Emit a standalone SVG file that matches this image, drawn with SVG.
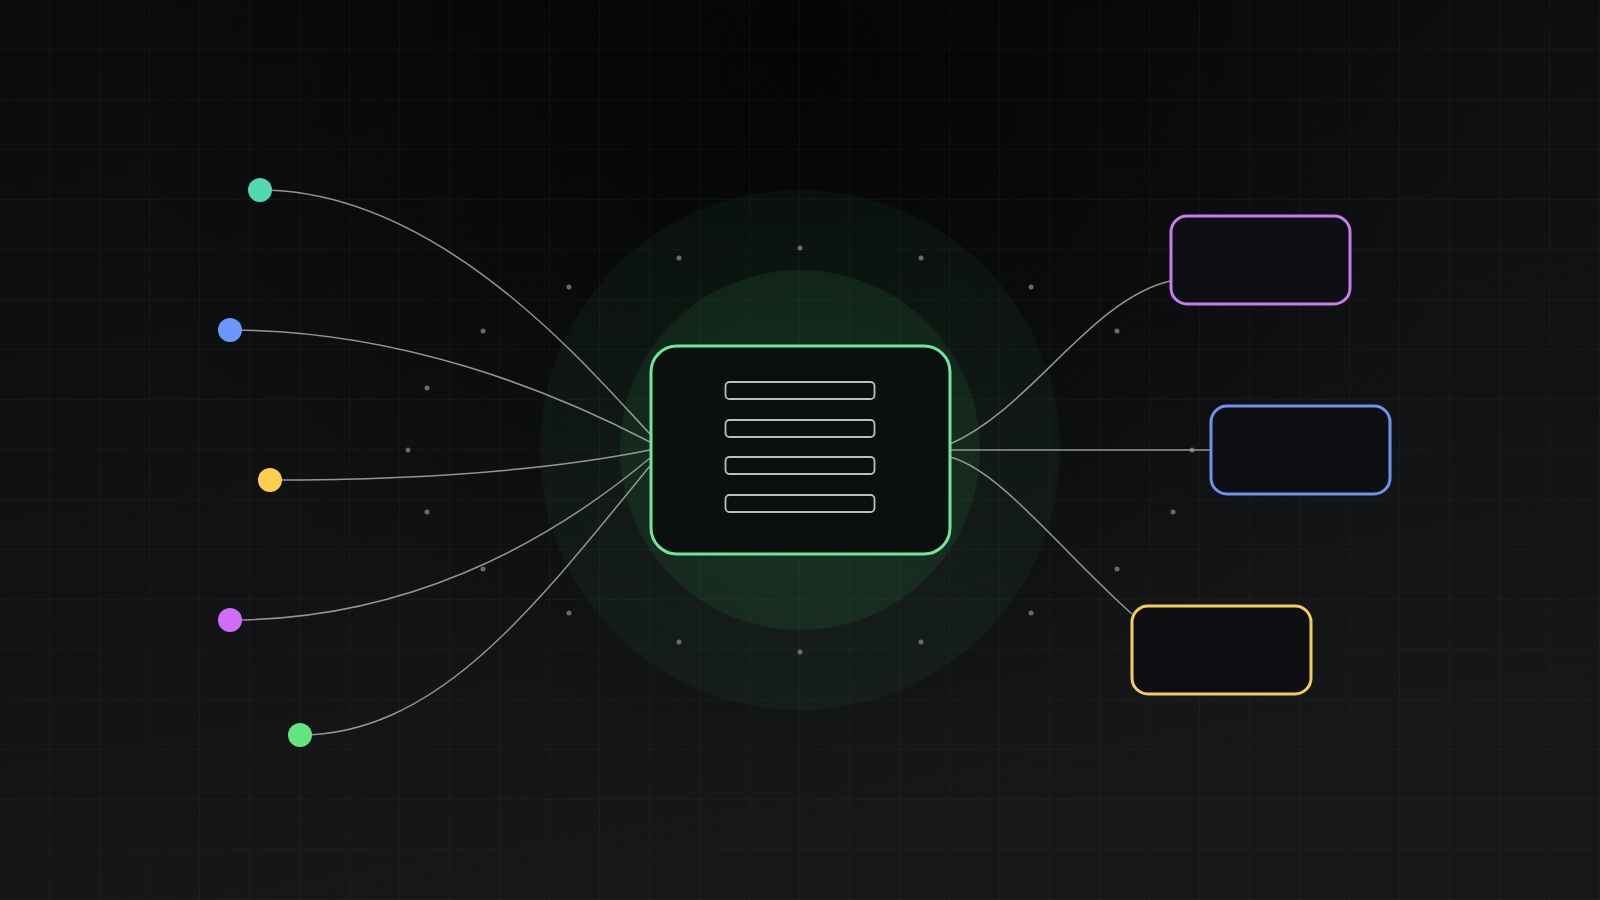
<svg xmlns="http://www.w3.org/2000/svg" width="1600" height="900" viewBox="0 0 1600 900">
  <defs>
    <linearGradient id="bg" x1="0" y1="0" x2="0.3" y2="1">
      <stop offset="0" stop-color="#0a0b0c"/>
      <stop offset="1" stop-color="#161719"/>
    </linearGradient>
    <radialGradient id="shade" cx="800" cy="60" r="700" gradientUnits="userSpaceOnUse">
      <stop offset="0" stop-color="#000" stop-opacity="0.65"/>
      <stop offset="1" stop-color="#000" stop-opacity="0"/>
    </radialGradient>
    <pattern id="grid" width="50" height="50" patternUnits="userSpaceOnUse">
      <path d="M50 0V50M0 50H50" fill="none" stroke="#ffffff" stroke-opacity="0.055" stroke-width="1"/>
    </pattern>
    <radialGradient id="glowOuter" cx="0.5" cy="0.5" r="0.5">
      <stop offset="0" stop-color="#4ade80" stop-opacity="0.07"/>
      <stop offset="1" stop-color="#4ade80" stop-opacity="0.045"/>
    </radialGradient>
    <radialGradient id="glowInner" cx="0.5" cy="0.5" r="0.5">
      <stop offset="0" stop-color="#4ade80" stop-opacity="0.12"/>
      <stop offset="1" stop-color="#4ade80" stop-opacity="0.08"/>
    </radialGradient>
  </defs>
  <style>
    .link { fill: none; stroke: #a3a3a3; stroke-width: 1.5; stroke-opacity: 0.9; }
    .ring-dot { fill: #6b6b6b; }
    .box { fill: #0e0f12; stroke-width: 3; }
    .bar { fill: none; stroke: #bdbdbd; stroke-width: 1.8; }
  </style>

  <rect width="1600" height="900" fill="url(#bg)"/>
  <rect width="1600" height="900" fill="url(#shade)"/>
  <rect width="1600" height="900" fill="url(#grid)"/>

  <g id="glow">
    <circle cx="800" cy="450" r="260" fill="url(#glowOuter)"/>
    <circle cx="800" cy="450" r="180" fill="url(#glowInner)"/>
  </g>

  <g id="ring-dots">
    <circle class="ring-dot" cx="1192" cy="450" r="2.5"/>
    <circle class="ring-dot" cx="1117" cy="331" r="2.5"/>
    <circle class="ring-dot" cx="1031" cy="287" r="2.5"/>
    <circle class="ring-dot" cx="921" cy="258" r="2.5"/>
    <circle class="ring-dot" cx="800" cy="248" r="2.5"/>
    <circle class="ring-dot" cx="679" cy="258" r="2.5"/>
    <circle class="ring-dot" cx="569" cy="287" r="2.5"/>
    <circle class="ring-dot" cx="483" cy="331" r="2.5"/>
    <circle class="ring-dot" cx="427" cy="388" r="2.5"/>
    <circle class="ring-dot" cx="408" cy="450" r="2.5"/>
    <circle class="ring-dot" cx="427" cy="512" r="2.5"/>
    <circle class="ring-dot" cx="483" cy="569" r="2.5"/>
    <circle class="ring-dot" cx="569" cy="613" r="2.5"/>
    <circle class="ring-dot" cx="679" cy="642" r="2.5"/>
    <circle class="ring-dot" cx="800" cy="652" r="2.5"/>
    <circle class="ring-dot" cx="921" cy="642" r="2.5"/>
    <circle class="ring-dot" cx="1031" cy="613" r="2.5"/>
    <circle class="ring-dot" cx="1117" cy="569" r="2.5"/>
    <circle class="ring-dot" cx="1173" cy="512" r="2.5"/>
  </g>

  <g id="connectors">
    <path class="link" d="M260 190 C440 190, 590 370, 650 434"/>
    <path class="link" d="M230 330 C400 330, 550 390, 650 442"/>
    <path class="link" d="M270 480 C420 480, 550 470, 650 450"/>
    <path class="link" d="M230 620 C400 620, 540 550, 650 458"/>
    <path class="link" d="M300 735 C440 735, 540 600, 650 466"/>
    <path class="link" d="M950 444 C1030 410, 1090 300, 1170 281"/>
    <path class="link" d="M950 450 L1210 450"/>
    <path class="link" d="M950 457 C1000 470, 1060 550, 1132 614"/>
  </g>

  <g id="source-teal"><circle cx="260" cy="190" r="12" fill="#4fd9b0"/></g>
  <g id="source-blue"><circle cx="230" cy="330" r="12" fill="#6b97ff"/></g>
  <g id="source-yellow"><circle cx="270" cy="480" r="12" fill="#ffcd4f"/></g>
  <g id="source-purple"><circle cx="230" cy="620" r="12" fill="#d06ef7"/></g>
  <g id="source-green"><circle cx="300" cy="735" r="12" fill="#62e47f"/></g>

  <g id="hub">
    <rect x="651" y="346" width="299" height="208" rx="26" fill="#0b0f0e" stroke="#6ee79a" stroke-width="3"/>
    <rect class="bar" x="725.5" y="382" width="149" height="17" rx="4"/>
    <rect class="bar" x="725.5" y="420" width="149" height="17" rx="4"/>
    <rect class="bar" x="725.5" y="457" width="149" height="17" rx="4"/>
    <rect class="bar" x="725.5" y="495" width="149" height="17" rx="4"/>
  </g>

  <g id="target-purple"><rect class="box" x="1171" y="216" width="179" height="88" rx="16" stroke="#c87cee"/></g>
  <g id="target-blue"><rect class="box" x="1211" y="406" width="179" height="88" rx="16" stroke="#6c95f2"/></g>
  <g id="target-yellow"><rect class="box" x="1132" y="606" width="179" height="88" rx="16" stroke="#f5cd5c"/></g>
</svg>
